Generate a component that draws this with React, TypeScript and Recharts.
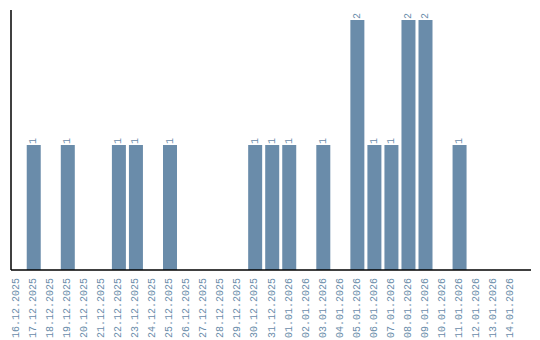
import { BarChart, Bar, XAxis, YAxis, LabelList } from 'recharts'

const dates = [
  '16.12.2025', '17.12.2025', '18.12.2025', '19.12.2025', '20.12.2025',
  '21.12.2025', '22.12.2025', '23.12.2025', '24.12.2025', '25.12.2025',
  '26.12.2025', '27.12.2025', '28.12.2025', '29.12.2025', '30.12.2025',
  '31.12.2025', '01.01.2026', '02.01.2026', '03.01.2026', '04.01.2026',
  '05.01.2026', '06.01.2026', '07.01.2026', '08.01.2026', '09.01.2026',
  '10.01.2026', '11.01.2026', '12.01.2026', '13.01.2026', '14.01.2026',
]

const counts = [
  0, 1, 0, 1, 0,
  0, 1, 1, 0, 1,
  0, 0, 0, 0, 1,
  1, 1, 0, 1, 0,
  2, 1, 1, 2, 2,
  0, 1, 0, 0, 0,
]

const data = dates.map((date, i) => ({ date, count: counts[i] }))

const color = '#6a8caa'
const font = '"Liberation Mono", monospace'

const DateTick = ({ x, y, payload }: any) => (
  <text
    x={x}
    y={y}
    transform={`rotate(-90 ${x} ${y})`}
    textAnchor="end"
    dominantBaseline="central"
    fontFamily={font}
    fontSize={10}
    fill={color}
  >
    {payload.value}
  </text>
)

const ValueLabel = (props: any) => {
  const { x, y, width, value } = props
  if (!value) return null
  const cx = x + width / 2
  const cy = y - 1
  return (
    <text
      x={cx}
      y={cy}
      transform={`rotate(-90 ${cx} ${cy})`}
      textAnchor="start"
      dominantBaseline="central"
      fontFamily={font}
      fontSize={10}
      fill={color}
    >
      {value}
    </text>
  )
}

export default function App() {
  return (
    <div style={{ position: 'absolute', left: 0, top: 0 }}>
      <BarChart
        width={540}
        height={340}
        data={data}
        margin={{ top: 10, right: 9, left: 10, bottom: 0 }}
        barCategoryGap="10%"
      >
        <XAxis
          dataKey="date"
          interval={0}
          height={70}
          tickLine={false}
          axisLine={{ stroke: '#000', strokeWidth: 1.5 }}
          tick={<DateTick />}
          padding={{ left: -3, right: 12 }}
        />
        <YAxis
          width={1}
          domain={[0, 2.08]}
          tick={false}
          tickLine={false}
          axisLine={{ stroke: '#000', strokeWidth: 1.5 }}
        />
        <Bar dataKey="count" fill={color} isAnimationActive={false}>
          <LabelList dataKey="count" content={<ValueLabel />} />
        </Bar>
      </BarChart>
    </div>
  )
}
